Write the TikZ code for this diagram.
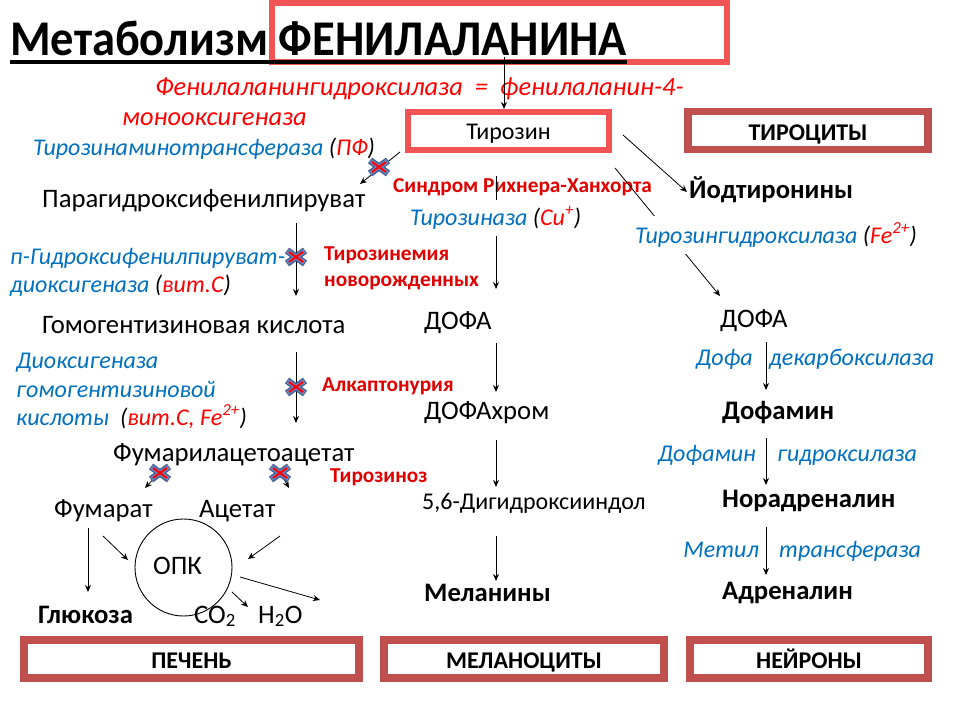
\documentclass[tikz,border=0pt]{standalone}
\usepackage{fontspec}
\setmainfont{Carlito}
\usetikzlibrary{arrows.meta}
\definecolor{tblue}{HTML}{0070C0}
\definecolor{tred}{HTML}{FF0000}
\definecolor{dred}{HTML}{E00000}
\definecolor{boxred}{HTML}{F05454}
\definecolor{darkbox}{HTML}{C0504D}
\definecolor{xout}{HTML}{3F5A8C}
\definecolor{xin}{HTML}{6A86BE}
\tikzset{
  txt/.style={inner sep=0pt, anchor=base west, font=\fontsize{24}{28}\selectfont},
  bigtxt/.style={txt, font=\fontsize{26.7}{30}\selectfont},
  btxt/.style={txt, font=\fontsize{26.7}{30}\selectfont\bfseries},
  enz/.style={inner sep=0pt, anchor=base west, text=tblue, font=\fontsize{24}{28}\selectfont\itshape},
  enzr/.style={enz, anchor=base east},
  redline/.style={inner sep=0pt, anchor=base west, text=tred, font=\fontsize{26.4}{30}\selectfont\itshape},
  dis/.style={inner sep=0pt, anchor=base west, text=dred, font=\fontsize{21.3}{25}\selectfont\bfseries},
  arr/.style={-{Stealth[length=7pt,width=6pt]}, line width=0.8pt},
  cellbox/.style={draw=darkbox, line width=7.5pt, fill=white, inner sep=0pt, minimum height=38pt, text height=19pt, text depth=0pt, font=\fontsize{24}{28}\selectfont\bfseries},
  blockx/.pic={
    \draw[xout, line width=7pt] (-9,-6.5) -- (9,6.5) (-9,6.5) -- (9,-6.5);
    \draw[xin, line width=4.5pt] (-8.5,-6) -- (8.5,6) (-8.5,6) -- (8.5,-6);
    \draw[red, line width=2pt] (-7,-5) -- (7,5) (-7,5) -- (7,-5);
  }
}
\begin{document}
\begin{tikzpicture}[x=1pt, y=-1pt]
\useasboundingbox (0,0) rectangle (960,720);
% title
\node[draw=boxred, line width=6pt, minimum width=455pt, minimum height=59pt, inner sep=0pt] (tbox) at (499.5,32.5) {};
\node[inner sep=0pt, anchor=base west, font=\fontsize{50}{56}\selectfont\bfseries] (title) at (10,55) {\scalebox{0.93}[1]{Метаболизм ФЕНИЛАЛАНИНА}};
\draw[line width=3.5pt] ([yshift=-7pt]title.base west) -- ([yshift=-7pt]title.base east);
\node[redline] (phe1) at (155,95) {Фенилаланингидроксилаза \ = \ фенилаланин-4-};
\node[redline] (phe2) at (122,125) {монооксигеназа};
% boxes top
\node[draw=boxred, line width=6pt, minimum width=201pt, minimum height=38pt, inner sep=0pt, text height=17pt, text depth=0pt, font=\fontsize{24}{28}\selectfont] (tyr) at (508.5,131) {Тирозин};
\node[cellbox, minimum width=240pt] (thyro) at (808,130.5) {ТИРОЦИТЫ};
\coordinate (ta) at (504,57);
\draw[arr] (ta) -- (ta |- tyr.north);
% left column
\node[enz] (tat) at (33,155) {Тирозинаминотрансфераза {\color{black}(}{\color{tred}ПФ}{\color{black})}};
\coordinate (a1s) at (400,152); \coordinate (a1e) at (360,184);
\draw[arr] (a1s) -- (a1e);
\pic at (379,167) {blockx};
\node[bigtxt] (para) at (42,207) {Парагидроксифенилпируват};
\node[dis] (rich) at (393,192) {Синдром Рихнера-Ханхорта};
\node[enz] (hpd1) at (10,264) {п-Гидроксифенилпируват-};
\node[enz] (hpd2) at (10,292) {диоксигеназа {\color{black}(}{\color{tred}вит.С}{\color{black})}};
\coordinate (a2s) at (296,223); \coordinate (a2e) at (296,296);
\draw[arr] (a2s) -- (a2e);
\pic at (296,257) {blockx};
\node[dis] (tyn1) at (324,260) {Тирозинемия};
\node[dis] (tyn2) at (324,286) {новорожденных};
\node[bigtxt] (hga) at (42,333) {Гомогентизиновая кислота};
\node[enz] (hgd1) at (16,368) {Диоксигеназа};
\node[enz] (hgd2) at (16,397) {гомогентизиновой};
\node[enz] (hgd3) at (16,425) {кислоты \ {\color{black}(}{\color{tred}вит.С, Fe\textsuperscript{2+}}{\color{black})}};
\coordinate (a3s) at (296,352); \coordinate (a3e) at (296,423);
\draw[arr] (a3s) -- (a3e);
\pic at (296,387) {blockx};
\node[dis] (alk) at (322,391) {Алкаптонурия};
\node[bigtxt] (faa) at (113,461) {Фумарилацетоацетат};
\coordinate (a4s) at (160,472); \coordinate (a4e) at (145,488);
\coordinate (a5s) at (280,472); \coordinate (a5e) at (289,488);
\draw[arr] (a4s) -- (a4e);
\draw[arr] (a5s) -- (a5e);
\pic at (160,473) {blockx};
\pic at (280,473) {blockx};
\node[dis] (tyrz) at (330,482) {Тирозиноз};
\node[bigtxt] (fum) at (54,517) {Фумарат};
\node[bigtxt] (ace) at (199,517) {Ацетат};
\node[draw, circle, line width=0.9pt, minimum size=97pt, inner sep=0pt] (opk) at (183.5,567.5) {};
\node[bigtxt] (opkt) at (153,574) {ОПК};
\coordinate (b1s) at (88,528); \coordinate (b1e) at (88,592);
\coordinate (b2s) at (103,536); \coordinate (b2e) at (128,560);
\coordinate (b3s) at (280,536); \coordinate (b3e) at (248,559);
\coordinate (b4s) at (240,577); \coordinate (b4e) at (320,600);
\coordinate (b5s) at (232,592); \coordinate (b5e) at (248,607);
\draw[arr] (b1s) -- (b1e);
\draw[arr] (b2s) -- (b2e);
\draw[arr] (b3s) -- (b3e);
\draw[arr] (b4s) -- (b4e);
\draw[arr] (b5s) -- (b5e);
\node[btxt] (glu) at (38,623) {Глюкоза};
\node[bigtxt] (co2) at (194,623) {CO\textsubscript{2}};
\node[bigtxt] (h2o) at (258,623) {H\textsubscript{2}O};
% middle column
\coordinate (m1s) at (496,176); \coordinate (m1e) at (496,289);
\draw[arr] (m1s) -- (m1e);
\node[enz, fill=white, inner xsep=2pt, inner ysep=7pt] (tyrase) at (408,225) {Тирозиназа {\color{black}(}{\color{tred}Cu\textsuperscript{+}}{\color{black})}};
\node[bigtxt] (dopa1) at (424,329) {ДОФА};
\node[bigtxt] (dchrom) at (424,419) {ДОФАхром};
\node[txt] (dhi) at (422,509) {5,6-Дигидроксииндол};
\node[btxt] (mel) at (424,601) {Меланины};
\coordinate (m2s) at (496,343); \coordinate (m2e) at (496,392);
\coordinate (m3s) at (496,440); \coordinate (m3e) at (496,487);
\coordinate (m4s) at (496,536); \coordinate (m4e) at (496,581);
\draw[arr] (m2s) -- (m2e);
\draw[arr] (m3s) -- (m3e);
\draw[arr] (m4s) -- (m4e);
% right column
\coordinate (r0s) at (623,135); \coordinate (r0e) at (687,192);
\draw[arr] (r0s) -- (r0e);
\node[btxt] (iod) at (689,198) {Йодтиронины};
\coordinate (r1s) at (615,168); \coordinate (r1e) at (720,296);
\draw[arr] (r1s) -- (r1e);
\node[enz, fill=white, inner xsep=2pt, inner ysep=7pt] (th) at (633,243) {Тирозингидроксилаза {\color{black}(}{\color{tred}Fe\textsuperscript{2+}}{\color{black})}};
\node[bigtxt] (dopa2) at (720,327) {ДОФА};
\node[btxt] (dopamin) at (722,419) {Дофамин};
\node[btxt] (nor) at (722,507) {Норадреналин};
\node[btxt] (adr) at (722,599) {Адреналин};
\coordinate (r2s) at (766,342); \coordinate (r2e) at (766,390);
\coordinate (r3s) at (766,438); \coordinate (r3e) at (766,485);
\coordinate (r4s) at (766,527); \coordinate (r4e) at (766,575);
\draw[arr] (r2s) -- (r2e);
\draw[arr] (r3s) -- (r3e);
\draw[arr] (r4s) -- (r4e);
\node[enzr] (ddc1) at (753,365) {Дофа};
\node[enz] (ddc2) at (769,365) {декарбоксилаза};
\node[enzr] (dbh1) at (756,461) {Дофамин};
\node[enz] (dbh2) at (777,461) {гидроксилаза};
\node[enzr] (pnm1) at (759,557) {Метил};
\node[enz] (pnm2) at (779,557) {трансфераза};
% bottom boxes
\node[cellbox, minimum width=335pt] (liver) at (191.5,659) {ПЕЧЕНЬ};
\node[cellbox, minimum width=280pt] (melc) at (524,659) {МЕЛАНОЦИТЫ};
\node[cellbox, minimum width=238pt] (neur) at (809,659) {НЕЙРОНЫ};
\end{tikzpicture}
\end{document}
